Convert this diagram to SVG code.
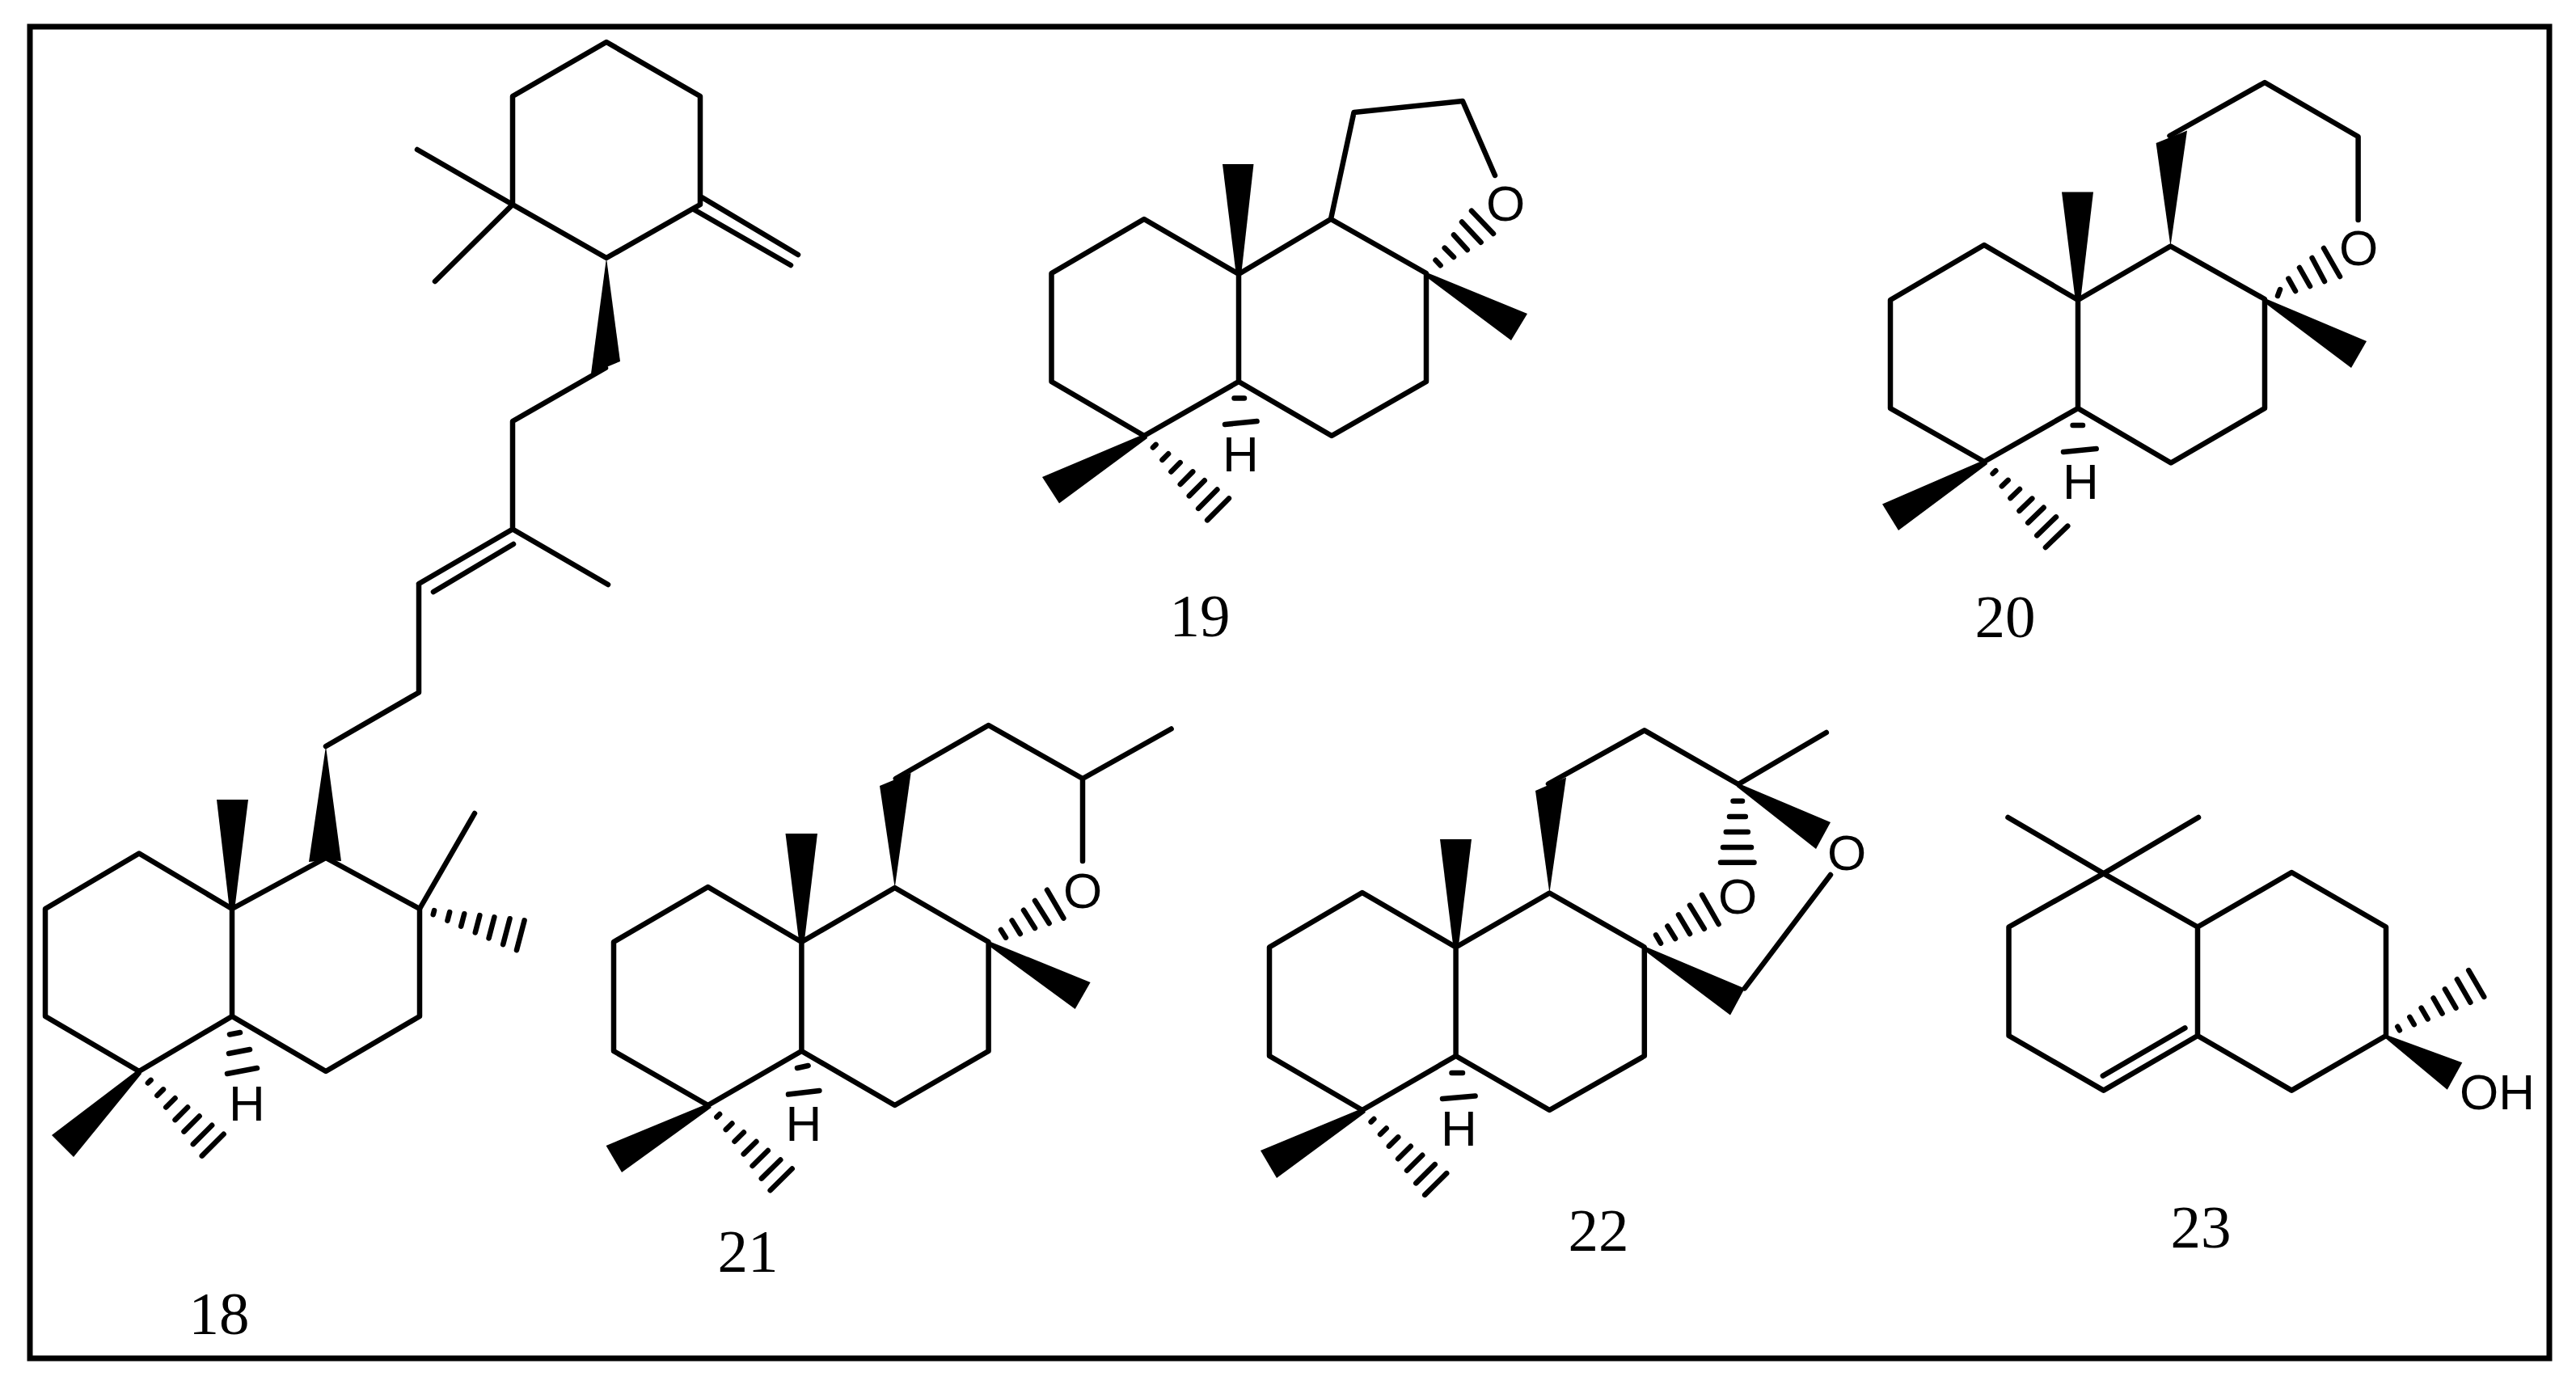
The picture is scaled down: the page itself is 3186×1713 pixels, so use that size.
<svg xmlns="http://www.w3.org/2000/svg" xmlns:xlink="http://www.w3.org/1999/xlink" width="3186" height="1713" viewBox="0 0 3186 1713">
<style>
.b{fill:none;stroke:#000;stroke-width:6.5;stroke-linecap:round;stroke-linejoin:round}
.w{fill:#000;stroke:none}
.a{font-family:"Liberation Sans",Arial,sans-serif;font-size:62px;fill:#000}
.n{font-family:"Liberation Serif","Times New Roman",serif;font-size:75px;fill:#000;text-anchor:middle}
</style>
<defs>
<g id="h7" class="b">
<path d="M18-2.6V2.6M37-5.4V5.4M55-8V8M74-11V11M92-13.5V13.5M111-16.5V16.5M129-19V19"/>
</g>
</defs>
<rect width="3186" height="1713" fill="#fff"/>
<rect x="37" y="33" width="3116" height="1647" fill="none" stroke="#000" stroke-width="7"/>

<g id="compound-18">
<path class="b" d="M56 1124L172 1055.500L287 1124V1257L172 1325L56 1257ZM287 1124L403 1061L519 1124V1257L403 1325L287 1257"/>
<path class="b" d="M519 1124L587 1006"/>
<path class="w" d="M268 989H307L290 1126H284Z"/>
<path class="w" d="M403 923L422 1065L403 1064L382 1066Z"/>
<path class="w" d="M172 1322L175 1328L91 1431L64 1404Z"/>
<use xlink:href="#h7" href="#h7" transform="translate(519,1124) rotate(14.700)"/>
<use xlink:href="#h7" href="#h7" transform="translate(172,1325) rotate(45)"/>
<path class="b" d="M284 1279.500L297 1277M283 1303L309 1298M281 1328L318 1321"/>
<text class="a" x="283" y="1386">H</text>
<path class="b" d="M403 923L518 856.500V722L634 654.500L752 723M634 654.500V521L749 455M536 732L635 673M518 722L634 654.500"/>
<path class="w" d="M750 319L767 447L731 462Z"/>
<path class="b" d="M750 52L866 119V253L750 319L634 253V119ZM634 253L516 185M634 253L538 348M868 244L987 315M858 259L978 328"/>
<text class="n" x="271" y="1650">18</text>
</g>

<g id="compound-19">
<path class="b" d="M1300.500 338L1415 271L1532 339V472L1415 539L1300.500 472ZM1532 339L1646 271L1764 338V472L1647 539L1532 472M1646 271L1674.500 139L1809 125L1849 217"/>
<path class="w" d="M1512 203H1550.500L1535 341H1529Z"/>
<path class="w" d="M1762 336L1889 388L1869 421L1762 341Z"/>
<path class="w" d="M1417 536L1419 542L1310 622.500L1289 590Z"/>
<path class="b" d="M1775.500 321.800L1781.600 328.200M1786.700 306.600L1798 318M1798 290.500L1814.800 309M1808 274.500L1831.600 299.700M1820 260.700L1847 289"/>
<use xlink:href="#h7" href="#h7" transform="translate(1415,539) rotate(44.800)"/>
<path class="b" d="M1526.500 492.500H1539M1515 525L1554.600 521"/>
<text class="a" x="1512" y="583">H</text>
<text class="a" x="1862" y="273" text-anchor="middle">O</text>
<text class="n" x="1484" y="787">19</text>
</g>

<g id="compound-20">
<path class="b" d="M2338 371L2454 303L2570 371V505L2454 571L2338 505ZM2570 371L2684.500 304.500L2801 370V505L2685 572.500L2570 505M2683.500 168L2801 102L2916.600 169V272"/>
<path class="w" d="M2550 237.600H2589L2573 373H2567Z"/>
<path class="w" d="M2684.500 304.500L2705 161.500L2666.600 177Z"/>
<path class="w" d="M2799 368L2927 422L2908 455L2799 373Z"/>
<path class="w" d="M2456 568L2458 574L2348 656L2328 623.400Z"/>
<path class="b" d="M2817 366L2820 358M2830.400 344.700L2839 360M2844 331L2857 354M2859.600 319L2875 348M2874 307L2894 342"/>
<use xlink:href="#h7" href="#h7" transform="translate(2454,571) rotate(46)"/>
<path class="b" d="M2563.600 526H2576M2552 559L2592.700 555"/>
<text class="a" x="2551" y="617">H</text>
<text class="a" x="2917" y="328" text-anchor="middle">O</text>
<text class="n" x="2480" y="788">20</text>
</g>

<g id="compound-21">
<path class="b" d="M759 1165L875.600 1097L991.400 1165V1300L875.600 1367L759 1300ZM991.400 1165L1106.700 1098L1222.600 1165V1300L1106.700 1367L991.400 1300M1107.800 963L1222.600 897L1339 963V1065M1339 963L1448.600 901.500"/>
<path class="w" d="M971.500 1031H1011L994.500 1167H988.500Z"/>
<path class="w" d="M1106.700 1098L1126.600 956L1088 972Z"/>
<path class="w" d="M1220.600 1163L1348.600 1215L1329.700 1248L1220.600 1168Z"/>
<path class="w" d="M877.600 1364L879.600 1370L769 1450L749.600 1417Z"/>
<path class="b" d="M1237.900 1150L1244 1159.700M1251.600 1138.400L1261.800 1155M1266 1125.700L1280 1147.900M1280 1114L1297.600 1142M1295 1100.700L1315.400 1135.600"/>
<use xlink:href="#h7" href="#h7" transform="translate(875.600,1367) rotate(45.400)"/>
<path class="b" d="M986 1321L999.600 1318M975 1353.600L1013.400 1349"/>
<text class="a" x="971.500" y="1411">H</text>
<text class="a" x="1339" y="1123" text-anchor="middle">O</text>
<text class="n" x="925" y="1573">21</text>
</g>

<g id="compound-22">
<path class="b" d="M1570 1171.500L1684.800 1104L1800.600 1171.500V1306L1684.800 1373L1570 1306ZM1800.600 1171.500L1916.400 1104.500L2033.800 1171.500V1306L1916.400 1373L1800.600 1306M1915 969.500L2033.800 903.400L2150 970L2258.800 906M2264 1082L2157.800 1222.400"/>
<path class="w" d="M1781 1038H1820L1803.600 1173H1797.600Z"/>
<path class="w" d="M1916.400 1104.500L1937 961.500L1899 978Z"/>
<path class="w" d="M2148 968L2264 1017L2246 1050L2148 973Z"/>
<path class="w" d="M2031.800 1169.500L2157.800 1222.400L2140 1255.500L2031.800 1174Z"/>
<path class="w" d="M1686.800 1370L1688.800 1376L1579 1457L1559 1423Z"/>
<path class="b" d="M2143.500 990.700H2155M2139 1010H2158.800M2134.800 1029H2161.800M2131 1048H2166M2128 1066.700H2169.500"/>
<path class="b" d="M2048 1156.400L2054 1166.700M2062.400 1145.500L2072 1161M2076 1131.400L2090 1155M2090 1119.600L2107.800 1148.800M2105 1106.800L2125.600 1143"/>
<use xlink:href="#h7" href="#h7" transform="translate(1684.800,1373) rotate(45.200)"/>
<path class="b" d="M1795.500 1327H1809M1784 1359L1824.600 1355.500"/>
<text class="a" x="1782" y="1417">H</text>
<text class="a" x="2149" y="1130" text-anchor="middle">O</text>
<text class="a" x="2284" y="1076" text-anchor="middle">O</text>
<text class="n" x="1977" y="1547">22</text>
</g>

<g id="compound-23">
<path class="b" d="M2484.500 1146.500L2601.700 1080.400L2718 1146.500V1281L2601.700 1348.600L2484.500 1281ZM2718 1146.500L2834.300 1079L2951 1146.500V1281L2834.300 1348.600L2718 1281M2601.700 1080.400L2483.500 1011M2601.700 1080.400L2719 1011M2702.400 1271.400L2600.800 1330.600"/>
<path class="w" d="M2949 1279L3045.300 1314.300L3026.800 1347.800L2949 1283Z"/>
<use xlink:href="#h7" href="#h7" transform="translate(2951,1281) rotate(-30)"/>
<text class="a" x="3042" y="1372">OH</text>
<text class="n" x="2722" y="1543">23</text>
</g>
</svg>
